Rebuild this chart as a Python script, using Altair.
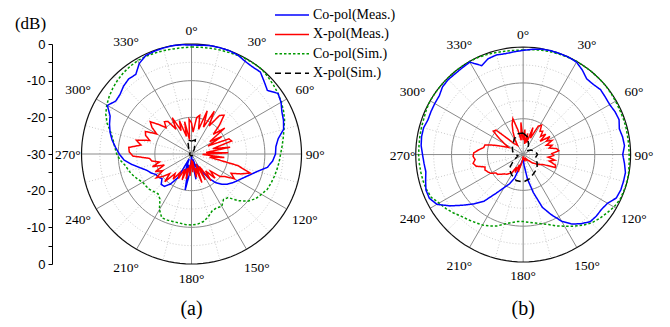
import altair as alt
import pandas as pd

# ---------------- data ----------------
ANG5 = list(range(0, 360, 5))     # 0..355
ANG4 = list(range(0, 360, 4))     # 0..356
ANG15 = list(range(0, 360, 15))   # 0..345

# panel (a)
a_co_meas = [-0.3, -0.2, 0.0, 0.0, 0.0, -0.2, -0.8, -1.0, -0.8, -2.0, -3.0, -1.2,
             -1.8, -2.8, -3.3, -4.0, -6.0, -6.9, -7.1, -7.8, -9.0, -11.5, -13.2, -14.5,
             -15.5, -16.3, -17.2, -18.3, -19.8, -22.0, -25.0, -27.0, -24.0, -28.5, -23.0, -28.0,
             -29.5, -25.0, -20.0, -27.0, -24.5, -28.5, -22.5, -20.0, -18.5, -18.3, -19.5, -19.0,
             -18.8, -17.8, -17.0, -15.5, -13.5, -11.5, -10.3, -9.2, -8.0, -7.0, -6.2, -5.5,
             -3.5, -4.8, -4.6, -3.8, -3.3, -3.5, -1.5, -0.4, -0.2, -0.1, 0.0, -0.1]
a_co_sim = [-0.8, -0.8, -0.7, -0.6, -0.5, -0.3, -0.1, 0.0, 0.0, -0.4, -0.8, -1.2,
            -1.7, -2.3, -3.0, -3.9, -4.6, -5.2, -5.7, -6.0, -6.3, -6.6, -6.9, -7.2,
            -8.0, -8.7, -10.0, -12.0, -14.5, -14.8, -13.5, -13.8, -13.5, -12.3, -11.3, -10.8,
            -10.6, -10.7, -10.9, -10.9, -10.8, -10.8, -12.5, -15.0, -15.8, -15.5, -15.0, -14.8,
            -14.6, -13.8, -13.0, -12.3, -11.7, -10.5, -9.6, -9.0, -8.3, -7.2, -5.5, -4.2,
            -3.3, -2.6, -2.0, -1.5, -1.1, -0.8, -0.6, -0.6, -0.7, -0.8, -0.9, -0.9]
a_x_meas = [-21.5, -24, -20, -19.2, -23, -17.5, -22, -16.8, -21, -17, -16.2, -19,
            -22, -18.5, -24, -20.5, -25, -19, -18.5, -24, -19.3, -26, -20, -27,
            -21, -25, -17, -13.2, -15.5, -18, -16.5, -19, -20, -23, -20.8, -24,
            -21, -26, -22, -27, -21.7, -26, -23.5, -28, -25, -28.5, -24, -27,
            -23, -26, -22.5, -25.5, -22.4, -24, -21.5, -23, -19.5, -22, -20, -18.4,
            -21, -19, -22, -18.8, -21, -19, -18.5, -14, -13, -12.8, -16, -14.5,
            -18, -16.5, -16, -19, -17, -15.7, -18, -20, -18.5, -19, -22, -18.8,
            -23, -20.3, -25, -21, -26, -20.5]
a_x_sim = [-26.5, -26, -28.5, -29.5, -29.5, -29.5, -29.5, -29.5, -29.5, -29.5, -29.5, -29.5,
           -29.5, -29.5, -29.5, -29.5, -29.5, -29.5, -29.5, -29.5, -29.5, -29.5, -28.5, -26]

# panel (b)
b_co_meas = [-0.9, -0.5, -0.1, 0.0, 0.0, 0.0, -0.2, -1.2, -2.4, -2.3, -1.8, -2.0,
             -2.1, -1.7, -1.5, -2.2, -1.8, -1.6, -2.2, -1.6, -1.0, -1.0, -1.0, -1.3,
             -2.8, -3.3, -3.3, -3.5, -4.8, -6.3, -8.5, -11.5, -14.3, -19.0, -23.0, -27.0,
             -28.5, -28.3, -28.0, -26.5, -23.0, -21.0, -19.3, -16.8, -13.0, -10.5, -8.0, -5.0,
             -2.2, -1.1, -1.1, -1.8, -2.4, -2.2, -1.9, -1.4, -1.2, -1.2, -1.7, -1.6,
             -1.5, -1.4, -0.6, -0.4, -0.5, -0.4, -0.2, -2.6, -1.5, -1.2, -1.4, -1.2]
b_co_sim = [-0.8, -0.6, -0.4, -0.3, -0.2, -0.1, 0.0, 0.0, 0.0, 0.0, 0.0, -0.1,
            -0.2, -0.3, -0.3, -0.3, -0.4, -0.4, -0.4, -0.3, -0.1, 0.0, -0.1, -0.2,
            -0.7, -1.5, -2.2, -3.0, -4.2, -5.6, -6.9, -8.0, -9.2, -10.0, -10.6, -11.0,
            -11.3, -11.2, -10.7, -9.9, -8.8, -8.0, -7.3, -6.8, -6.2, -5.6, -4.6, -3.7,
            -2.9, -1.7, -1.3, -1.1, -1.0, -0.9, -0.8, -0.8, -0.7, -0.6, -0.5, -0.2,
            0.0, 0.0, 0.0, 0.0, 0.0, 0.0, 0.0, -0.1, -0.3, -0.5, -0.7, -0.8]
b_x_meas = [-26, -23, -27, -24, -26.5, -22, -25, -21, -20.3, -22, -21.5, -23,
            -21.5, -24, -21, -22.5, -21, -23, -21.5, -22.5, -20.5, -20, -22, -21.5,
            -23, -21, -22.5, -20.5, -20.3, -23.5, -24.5, -25, -26, -26.5, -27.5, -28,
            -28.5, -28, -29, -28.5, -29, -28, -29, -28.5, -29, -29.5, -29, -28,
            -27, -25, -27, -24.5, -26, -24, -23.5, -22.8, -22.5, -21.8, -21, -20.8,
            -19.5, -19, -18.5, -18.8, -16.5, -15.8, -16.5, -16, -16.2, -17.5, -18.8, -19,
            -21.5, -24, -25.5, -24, -22, -19.4, -19.8, -24, -26, -26.5, -27, -25,
            -23, -21, -19.6, -23, -26, -21]
b_x_sim = [-24, -25, -27, -28.5, -27.5, -26.5, -26, -26.5, -25.5, -24.5, -24, -23,
           -22.3, -22.5, -23.5, -24.5, -27, -28.5, -28, -27, -26.5, -26, -25, -24]

series_names = ["Co-pol(Meas.)", "X-pol(Meas.)", "Co-pol(Sim.)", "X-pol(Sim.)"]
series_colors = ["#0000ff", "#ff0000", "#009a00", "#000000"]
series_dashes = [[1, 0], [1, 0], [2.5, 2], [6, 4]]

angle_ticks = list(range(0, 360, 30))
panels = ["a", "b"]
panel_captions = ["(a)", "(b)"]
db_ticks = [-30, -25, -20, -15, -10, -5, 0, 5, 10, 15, 20, 25, 30]

# ---------------- tables ----------------
rows = []
def add(panel, name, angles, values):
    pts = list(zip(angles, values)) + [(360, values[0])]   # close the loop
    for i, (t, v) in enumerate(pts):
        rows.append({"panel": panel, "series": name, "ang": t, "db": v, "i": i})

add("a", series_names[0], ANG5, a_co_meas)
add("a", series_names[1], ANG4, a_x_meas)
add("a", series_names[2], ANG5, a_co_sim)
add("a", series_names[3], ANG15, a_x_sim)
add("b", series_names[0], ANG5, b_co_meas)
add("b", series_names[1], ANG4, b_x_meas)
add("b", series_names[2], ANG5, b_co_sim)
add("b", series_names[3], ANG15, b_x_sim)
curves = pd.DataFrame(rows)

ring_t = list(range(0, 361, 3))
ring_rows = []
for p in panels:
    for lev in [-25, -20, -15, -10, -5, 0]:
        kind = "outer" if lev == 0 else ("solid" if lev % 10 == 0 else "dot")
        for i, t in enumerate(ring_t):
            ring_rows.append({"panel": p, "db": lev, "ang": t, "i": i, "kind": kind,
                              "key": f"{p}{lev}"})
rings = pd.DataFrame(ring_rows)

spoke_rows = []
for p in panels:
    for t in range(0, 360, 15):
        spoke_rows.append({"panel": p, "ang": t, "kind": "solid" if t % 30 == 0 else "dot"})
spokes = pd.DataFrame(spoke_rows)

labels = pd.DataFrame([{"panel": p, "ang": t, "lab": f"{t}°"} for p in panels for t in angle_ticks])
captions = pd.DataFrame({"panel": panels, "lab": panel_captions})

# ---------------- layout (scale units: 30 units = 110 px) ----------------
XMAX = 165.0
CX = "(datum.panel == 'a' ? 38.05 : 128.5)"
CY = "(datum.panel == 'a' ? 0.0 : -0.15)"
RR = "(datum.panel == 'a' ? 30.0 : 29.3)"

xs = alt.Scale(domain=[0, XMAX], nice=False, zero=False)
ys = alt.Scale(domain=[-30, 30], nice=False, zero=False)

yaxis = alt.Axis(values=db_ticks,
                 labelExpr="datum.value % 10 == 0 ? '' + (abs(datum.value) - 30) : ''",
                 tickSize=4, tickColor="black", tickWidth=1, domainColor="black", domainWidth=1,
                 labelFont="Liberation Sans", labelFontSize=13, labelColor="black", labelPadding=3,
                 grid=False, title="(dB)", titleAngle=0, titleFont="Liberation Serif",
                 titleFontSize=17, titleFontWeight="normal", titleColor="black",
                 titleX=-22, titleY=-21, titleAlign="center", titleBaseline="middle")

def polar(ch, rexpr):
    return ch.transform_calculate(
        rad=f"({rexpr}) / 30 * {RR}",
    ).transform_calculate(
        px=f"{CX} + datum.rad * sin(datum.ang * PI / 180)",
        py=f"{CY} + datum.rad * cos(datum.ang * PI / 180)",
    )

def X(f="px"):
    return alt.X(f"{f}:Q", scale=xs, axis=None)

def Y(f="py"):
    return alt.Y(f"{f}:Q", scale=ys, axis=yaxis)

# rings
ring_base = polar(alt.Chart(rings), "datum.db + 30")
ring_dot = ring_base.transform_filter(alt.datum.kind == "dot").mark_line(
    color="#bdbdbd", strokeWidth=0.8, strokeDash=[1, 2]).encode(
    x=X(), y=Y(), detail="key:N", order="i:Q")
ring_solid = ring_base.transform_filter(alt.datum.kind == "solid").mark_line(
    color="#8a8a8a", strokeWidth=1).encode(x=X(), y=Y(), detail="key:N", order="i:Q")
ring_outer = ring_base.transform_filter(alt.datum.kind == "outer").mark_line(
    color="#111111", strokeWidth=1.2).encode(x=X(), y=Y(), detail="key:N", order="i:Q")

# spokes
spoke_base = alt.Chart(spokes).transform_calculate(
    x0=CX, y0=CY,
).transform_calculate(
    x1=f"{CX} + {RR} * sin(datum.ang * PI / 180)",
    y1=f"{CY} + {RR} * cos(datum.ang * PI / 180)",
)
spoke_dot = spoke_base.transform_filter(alt.datum.kind == "dot").mark_rule(
    color="#bdbdbd", strokeWidth=0.8, strokeDash=[1, 2]).encode(
    x=X("x0"), y=Y("y0"), x2="x1:Q", y2="y1:Q")
spoke_solid = spoke_base.transform_filter(alt.datum.kind == "solid").mark_rule(
    color="#8a8a8a", strokeWidth=1).encode(
    x=X("x0"), y=Y("y0"), x2="x1:Q", y2="y1:Q")

# curves
leg = alt.Legend(title=None, orient="none", legendX=232, legendY=-37,
                 symbolType="M-2.43,0H2.43", symbolSize=196, symbolStrokeWidth=1.5,
                 labelFont="Liberation Serif", labelFontSize=14, labelColor="black",
                 labelOffset=13, rowPadding=4.4, padding=0, symbolOffset=0)
cscale = alt.Scale(domain=series_names, range=series_colors)
dscale = alt.Scale(domain=series_names, range=series_dashes)

def curve(name):
    return polar(alt.Chart(curves).transform_filter(alt.datum.series == name),
                 "max(0, datum.db + 30)").mark_line(strokeWidth=1.5).encode(
        x=X(), y=Y(),
        color=alt.Color("series:N", scale=cscale, legend=leg),
        strokeDash=alt.StrokeDash("series:N", scale=dscale, legend=leg),
        detail="panel:N", order="i:Q")

# angle labels
lab_layer = polar(alt.Chart(labels), "33.7 + 2.3 * abs(sin(2 * datum.ang * PI / 180))").mark_text(
    font="Liberation Serif", fontSize=13.5, color="black", align="center", baseline="middle", dy=1
).encode(x=X(), y=Y(), text="lab:N")

cap_layer = alt.Chart(captions).transform_calculate(px=CX, py="-42.3").mark_text(
    font="Liberation Serif", fontSize=20, color="black", align="center", baseline="middle"
).encode(x=X(), y=Y(), text="lab:N")

chart = alt.layer(
    ring_dot, spoke_dot, ring_solid, spoke_solid, ring_outer,
    curve(series_names[2]), curve(series_names[0]), curve(series_names[1]), curve(series_names[3]),
    lab_layer, cap_layer,
).properties(
    width=605, height=220,
    autosize=alt.AutoSizeParams(type="none"),
    padding={"left": 44, "top": 36, "right": 5, "bottom": 55},
    background="white",
).configure_view(stroke=None)

chart.save("out.html", embed_options={"renderer": "svg", "actions": False})
